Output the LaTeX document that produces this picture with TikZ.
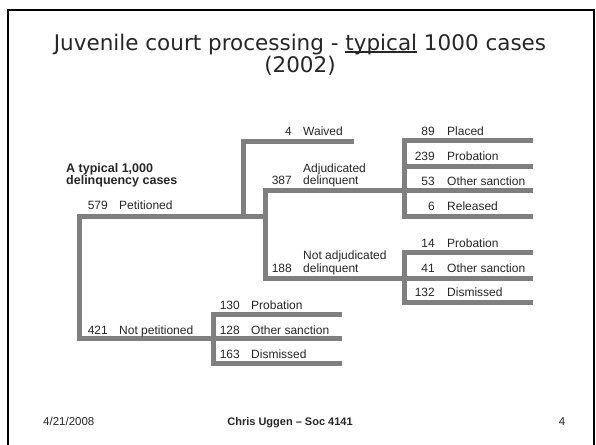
\documentclass[tikz,border=0pt]{standalone}
\usepackage{fontspec}
\setmainfont{Liberation Sans}
\newfontfamily\titlefont{DejaVu Sans}
\definecolor{branch}{HTML}{7F7F7F}
\definecolor{txt}{HTML}{262626}
\newcommand\myul[1]{\setbox0\hbox{#1}\rlap{\rule[-2.6pt]{\wd0}{1.1pt}}\box0\relax}
\begin{document}
\begin{tikzpicture}[x=1pt,y=-1pt,
  br/.style={draw=branch, line width=5pt, line join=miter, line cap=butt},
  num/.style={anchor=base east, inner sep=0pt, text=txt, font=\fontsize{12}{12}\selectfont},
  lab/.style={anchor=base west, inner sep=0pt, text=txt, font=\fontsize{12}{12}\selectfont},
  head/.style={anchor=base west, inner sep=0pt, text=txt, font=\fontsize{12.5}{12}\selectfont\bfseries},
  ttl/.style={anchor=base, inner sep=0pt, text=txt, font=\titlefont\fontsize{21.5}{22}\selectfont},
  foot/.style={anchor=base, inner sep=0pt, text=txt, font=\fontsize{11.5}{12}\selectfont}]
\useasboundingbox (0,0) rectangle (596,444);
\fill[white] (0,0) rectangle (596,444);
\draw[black, line width=1.8pt] (8,450) -- (8,10) -- (594,10) -- (594,450);

% title
\node[ttl] (title) at (300,50) {Juvenile court processing - \myul{typical} 1000 cases};
\node[ttl] (year) at (300,72) {(2002)};

% branch points
\coordinate (pet) at (79,216);
\coordinate (npet) at (79,338);
\coordinate (jpet) at (265,216);
\coordinate (wfork) at (243,216);
\coordinate (wv) at (243,141);
\coordinate (wend) at (354,141);
\coordinate (adj) at (265,190);
\coordinate (nadj) at (265,278);
\coordinate (a1) at (404,140); \coordinate (a1e) at (533,140);
\coordinate (a2) at (404,166); \coordinate (a2e) at (533,166);
\coordinate (a3e) at (533,190);
\coordinate (a4) at (404,216); \coordinate (a4e) at (533,216);
\coordinate (n1) at (404,252); \coordinate (n1e) at (533,252);
\coordinate (n2e) at (533,278);
\coordinate (n3) at (404,302); \coordinate (n3e) at (533,302);
\coordinate (p1) at (213,314); \coordinate (p1e) at (342,314);
\coordinate (p2e) at (342,338);
\coordinate (p3) at (213,363); \coordinate (p3e) at (342,363);

\draw[br] (jpet) -- (pet) -- (npet) -- (p2e);
\draw[br] (wend) -- (wv) -- (wfork);
\draw[br] (a3e) -- (adj) -- (nadj) -- (n2e);
\draw[br] (a1e) -- (a1) -- (a4) -- (a4e);
\draw[br] (a2) -- (a2e);
\draw[br] (n1e) -- (n1) -- (n3) -- (n3e);
\draw[br] (p1e) -- (p1) -- (p3) -- (p3e);

% header
\node[head] (h1) at (66,172) {A typical 1,000};
\node[head] (h2) at (66,184) {delinquency cases};

% labels
\node[num] (n579) at (108,209) {579};
\node[lab] (l579) at (119,209) {Petitioned};
\node[num] (n421) at (108,334) {421};
\node[lab] (l421) at (119,334) {Not petitioned};

\node[num] (n4) at (292,135) {4};
\node[lab] (l4) at (303,135) {Waived};
\node[num] (n387) at (292,184) {387};
\node[lab] (l387a) at (303,172) {Adjudicated};
\node[lab] (l387b) at (303,184) {delinquent};
\node[num] (n188) at (292,272) {188};
\node[lab] (l188a) at (303,259) {Not adjudicated};
\node[lab] (l188b) at (303,272) {delinquent};

\node[num] (n89) at (435,135) {89};
\node[lab] (l89) at (447,135) {Placed};
\node[num] (n239) at (435,160) {239};
\node[lab] (l239) at (447,160) {Probation};
\node[num] (n53) at (435,185) {53};
\node[lab] (l53) at (447,185) {Other sanction};
\node[num] (n6) at (435,210) {6};
\node[lab] (l6) at (447,210) {Released};
\node[num] (n14) at (435,247) {14};
\node[lab] (l14) at (447,247) {Probation};
\node[num] (n41) at (435,272) {41};
\node[lab] (l41) at (447,272) {Other sanction};
\node[num] (n132) at (435,296) {132};
\node[lab] (l132) at (447,296) {Dismissed};

\node[num] (n130) at (240,309) {130};
\node[lab] (l130) at (251,309) {Probation};
\node[num] (n128) at (240,334) {128};
\node[lab] (l128) at (251,334) {Other sanction};
\node[num] (n163) at (240,358) {163};
\node[lab] (l163) at (251,358) {Dismissed};

% footer
\node[foot, anchor=base west] (date) at (43,425) {4/21/2008};
\node[foot, font=\fontsize{11}{12}\selectfont\bfseries] (author) at (290,425) {Chris Uggen – Soc 4141};
\node[foot] (page) at (562,425) {4};
\end{tikzpicture}
\end{document}
